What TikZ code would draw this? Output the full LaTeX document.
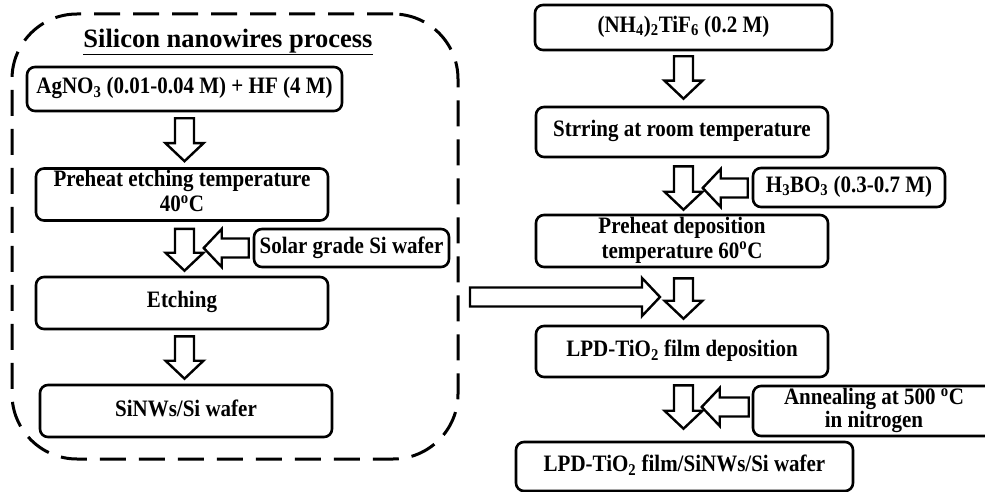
\documentclass[tikz,border=0pt]{standalone}
\usepackage{graphicx}
\usepackage{fontspec}
\setmainfont{Liberation Serif}
\usetikzlibrary{calc}
\newcommand\tx[1]{\scalebox{1}[1.12]{\begin{tabular}{@{}c@{}}#1\end{tabular}}}
\tikzset{
  box/.style={draw, line width=2.6pt, rounded corners=8pt, inner sep=0pt, align=center,
    font=\fontsize{21}{19.2}\selectfont\bfseries},
  frame/.style={draw, line width=3pt, rounded corners=65pt, dash pattern=on 26pt off 13pt},
  hollowarrow/.style={draw, line width=2.4pt, fill=white, line join=miter},
  titlefont/.style={font=\fontsize{26.5}{28}\selectfont\bfseries}
}
\newcommand\barrow[2]{%
  \coordinate (ba) at #1; \coordinate (bb) at #2;
  \coordinate (bh) at ($(bb)!18pt!(ba)$);
  \draw[hollowarrow] ($(ba)!9.5pt!90:(bb)$) -- ($(bh)!9.5pt!-90:(ba)$) -- ($(bh)!19pt!-90:(ba)$)
    -- (bb) -- ($(bh)!19pt!90:(ba)$) -- ($(bh)!9.5pt!90:(ba)$) -- ($(ba)!9.5pt!-90:(bb)$) -- cycle;}
\begin{document}
\begin{tikzpicture}[x=1pt,y=-1pt]
\useasboundingbox (0,0) rectangle (985,492);
% left frame
\node[frame, minimum width=446pt, minimum height=445pt] (frame) at (235,236.5) {};
\node[titlefont] (title) at (228,42) {\underline{Silicon nanowires process}};
% left column
\node[box, minimum width=315pt, minimum height=44pt] (A) at (184.5,89) {\tx{AgNO\textsubscript{3} (0.01-0.04 M) + HF (4 M)}};
\node[box, minimum width=292pt, minimum height=52pt] (B) at (182,194.5) {\tx{Preheat etching temperature\\[2pt]40\textsuperscript{o}C}};
\node[box, minimum width=195pt, minimum height=38pt] (C) at (351.5,248) {\tx{Solar grade Si wafer}};
\node[box, minimum width=292pt, minimum height=52pt] (D) at (182,303) {\tx{Etching}};
\node[box, minimum width=292pt, minimum height=52pt] (E) at (186,411) {\tx{SiNWs/Si wafer}};
% right column
\node[box, minimum width=297pt, minimum height=45pt] (F) at (683.5,27.5) {\tx{(NH\textsubscript{4})\textsubscript{2}TiF\textsubscript{6} (0.2 M)}};
\node[box, minimum width=292pt, minimum height=50pt] (G) at (682,132) {\tx{Strring at room temperature}};
\node[box, minimum width=192pt, minimum height=39pt] (H) at (849,187.5) {\tx{H\textsubscript{3}BO\textsubscript{3} (0.3-0.7 M)}};
\node[box, minimum width=292pt, minimum height=52pt] (I) at (682,241) {\tx{Preheat deposition\\[2pt]temperature 60\textsuperscript{o}C}};
\node[box, minimum width=292pt, minimum height=51pt] (J) at (682,351.5) {\tx{LPD-TiO\textsubscript{2} film deposition}};
\node[box, minimum width=242pt, minimum height=50pt] (K) at (874,411) {\tx{Annealing at 500 \textsuperscript{o}C\\in nitrogen}};
\node[box, minimum width=337pt, minimum height=49pt] (L) at (684.5,466.5) {\tx{LPD-TiO\textsubscript{2} film/SiNWs/Si wafer}};
% left arrows
\barrow{($(A.south)+(0,6)$)}{($(A.south |- B.north)+(0,-6)$)}
\barrow{($(A.south |- B.south)+(0,7)$)}{($(A.south |- D.north)+(0,-5)$)}
\barrow{($(C.west)+(-4,0)$)}{($(C.west)+(-49,0)$)}
\barrow{($(A.south |- D.south)+(0,6)$)}{($(A.south |- E.north)+(0,-5)$)}
% long arrow
\coordinate (lt) at (470,297);
\barrow{(lt)}{($(lt)+(190,0)$)}
% right arrows
\barrow{($(F.south)+(0,5)$)}{($(F.south |- G.north)+(0,-7)$)}
\barrow{($(F.south |- G.south)+(0,8)$)}{($(F.south |- I.north)+(0,-4)$)}
\barrow{($(H.west)+(-4,0.5)$)}{($(H.west)+(-49,0.5)$)}
\barrow{($(F.south |- I.south)+(0,10)$)}{($(F.south |- J.north)+(0,-6)$)}
\barrow{($(F.south |- J.south)+(0,7)$)}{($(F.south |- L.north)+(0,-12)$)}
\barrow{($(K.west)+(-3,-4)$)}{($(K.west)+(-50,-4)$)}
\end{tikzpicture}
\end{document}
